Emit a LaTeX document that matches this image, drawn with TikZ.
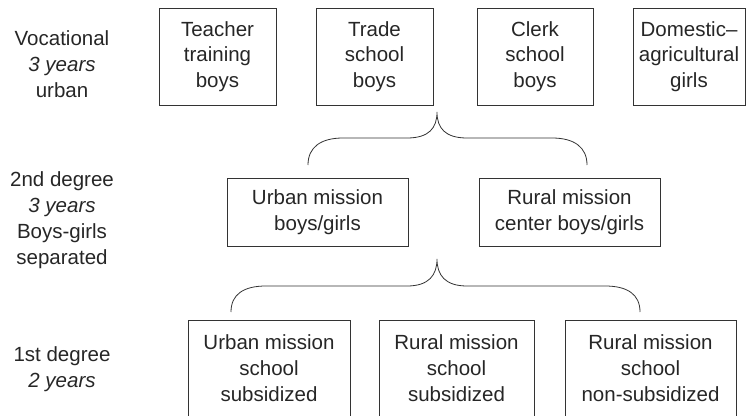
\documentclass[tikz,border=0pt]{standalone}
\usepackage{fontspec}
\setmainfont{Liberation Sans}
\tikzset{
	box/.style={draw=black!80,line width=0.8pt,align=center,inner sep=0pt,text=black!85},
	lbl/.style={align=center,text=black!85},
}
\begin{document}
\begin{tikzpicture}[x=1pt,y=-1pt,font=\fontsize{20.5}{25.8}\selectfont]
	\useasboundingbox(0,0)rectangle(746,415);
	\clip(0,0)rectangle(746,415);
	\node[lbl](voc)at(62,64){Vocational\\\textit{3 years}\\urban};
	\node[lbl](sec)at(62,220){2nd degree\\\textit{3 years}\\Boys-girls\\separated};
	\node[lbl](fst)at(62,369){1st degree\\\textit{2 years}};
	\node[box,minimum width=117,minimum height=97](teacher)at(217.5,56.5){Teacher\\training\\boys};
	\node[box,minimum width=117,minimum height=97](trade)at(374.5,56.5){Trade\\school\\boys};
	\node[box,minimum width=116,minimum height=97](clerk)at(535,56.5){Clerk\\school\\boys};
	\node[box,minimum width=112,minimum height=97](domestic)at(689,56.5){Domestic--\\agricultural\\girls};
	\node[box,minimum width=181,minimum height=68](urban)at(317.5,212){Urban mission\\boys/girls};
	\node[box,minimum width=181,minimum height=68](rural)at(569.5,212){Rural mission\\center boys/girls};
	\node[box,minimum width=162,minimum height=96](usub)at(269,368){Urban mission\\school\\subsidized};
	\node[box,minimum width=155,minimum height=96](rsub)at(456.5,368){Rural mission\\school\\subsidized};
	\node[box,minimum width=171,minimum height=96](rnon)at(650.5,368){Rural mission\\school\\non-subsidized};
	\coordinate(b1l)at(308,165);
	\coordinate(b1t)at(437,112);
	\coordinate(b1r)at(587,165);
	\coordinate(b2l)at(231,312);
	\coordinate(b2t)at(437,259);
	\coordinate(b2r)at(640,312);
	\draw[black!80,line width=0.8pt](b1l)..controls+(0,-18)and+(-22,0)..(343,138)--(407,138)
		..controls+(22,0)and+(0,16)..(b1t)
		..controls+(0,16)and+(-22,0)..(467,138)--(552,138)
		..controls+(22,0)and+(0,-18)..(b1r);
	\draw[black!80,line width=0.8pt](b2l)..controls+(0,-18)and+(-22,0)..(266,286)--(407,286)
		..controls+(22,0)and+(0,16)..(b2t)
		..controls+(0,16)and+(-22,0)..(467,286)--(605,286)
		..controls+(22,0)and+(0,-18)..(b2r);
\end{tikzpicture}
\end{document}
